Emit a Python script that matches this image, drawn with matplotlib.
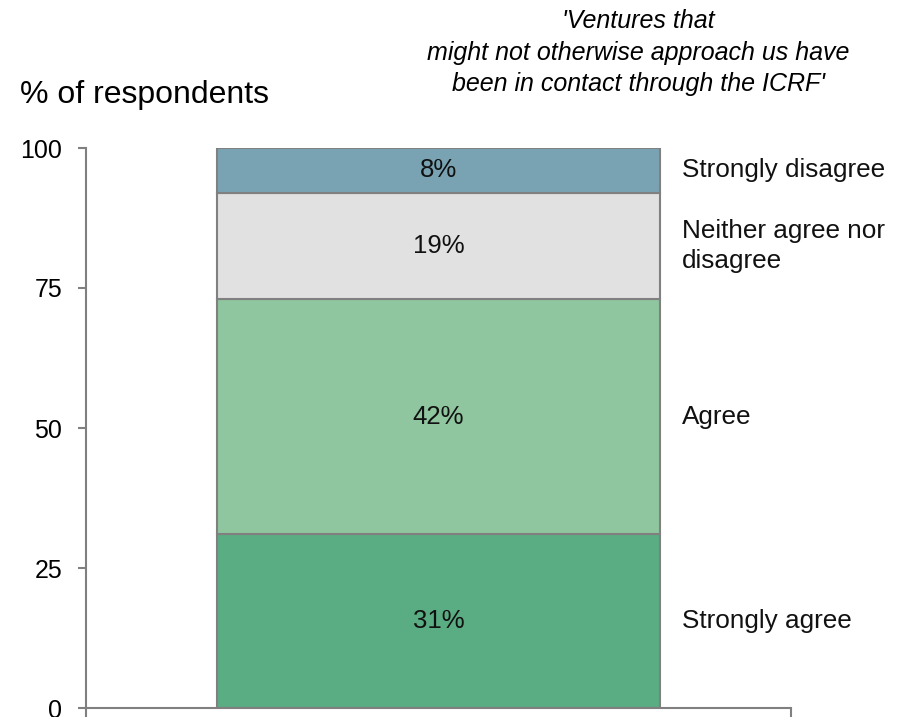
import matplotlib
matplotlib.use("Agg")
import matplotlib.pyplot as plt

plt.rcParams['font.family'] = ['Liberation Sans', 'DejaVu Sans']

# Survey responses, stacked bottom to top
responses = ["Strongly agree", "Agree", "Neither agree nor\ndisagree", "Strongly disagree"]
shares = [31, 42, 19, 8]
colors = ["#5aad83", "#8fc69f", "#e1e1e1", "#79a3b3"]
yticks = [0, 25, 50, 75, 100]

title = "'Ventures that\nmight not otherwise approach us have\nbeen in contact through the ICRF'"
ylabel = "% of respondents"

fig = plt.figure(figsize=(9.01, 7.17), dpi=100)
ax = fig.add_axes([86 / 901, 9 / 717, 705 / 901, 560 / 717])

bar_w = 0.628
grey = "#808080"
bottom = 0
for name, val, col in zip(responses, shares, colors):
    ax.bar(0, val, width=bar_w, bottom=bottom, color=col,
           edgecolor=grey, linewidth=1.5, zorder=2)
    mid = bottom + val / 2
    ax.text(0, mid, f"{val}%", ha="center", va="center", fontsize=18.5, color="#111111")
    ax.annotate(name, xy=(bar_w / 2, mid), xytext=(16, 0), textcoords="offset points",
                ha="left", va="center", fontsize=18.8, color="#111111", linespacing=1.35)
    bottom += val

ax.set_xlim(-0.5, 0.5)
ax.set_ylim(0, 100)
ax.set_yticks(yticks)
ax.set_xticks([-0.5, 0.5])
ax.set_xticklabels([])
ax.tick_params(axis="y", direction="out", length=6, width=1.5, color=grey,
               labelsize=18, pad=11)
ax.tick_params(axis="x", direction="out", length=6.5, width=1.5, color=grey)
for side in ["top", "right"]:
    ax.spines[side].set_visible(False)
for side in ["left", "bottom"]:
    ax.spines[side].set_color(grey)
    ax.spines[side].set_linewidth(1.5)
ax.patch.set_visible(False)

fig.text(20 / 901, 1 - 95 / 717, ylabel, ha="left", va="center", fontsize=23)
fig.text(638 / 901, 1 - 9 / 717, title, ha="center", va="top", fontsize=18,
         style="italic", linespacing=1.4)

fig.savefig("out.png", dpi=100)
